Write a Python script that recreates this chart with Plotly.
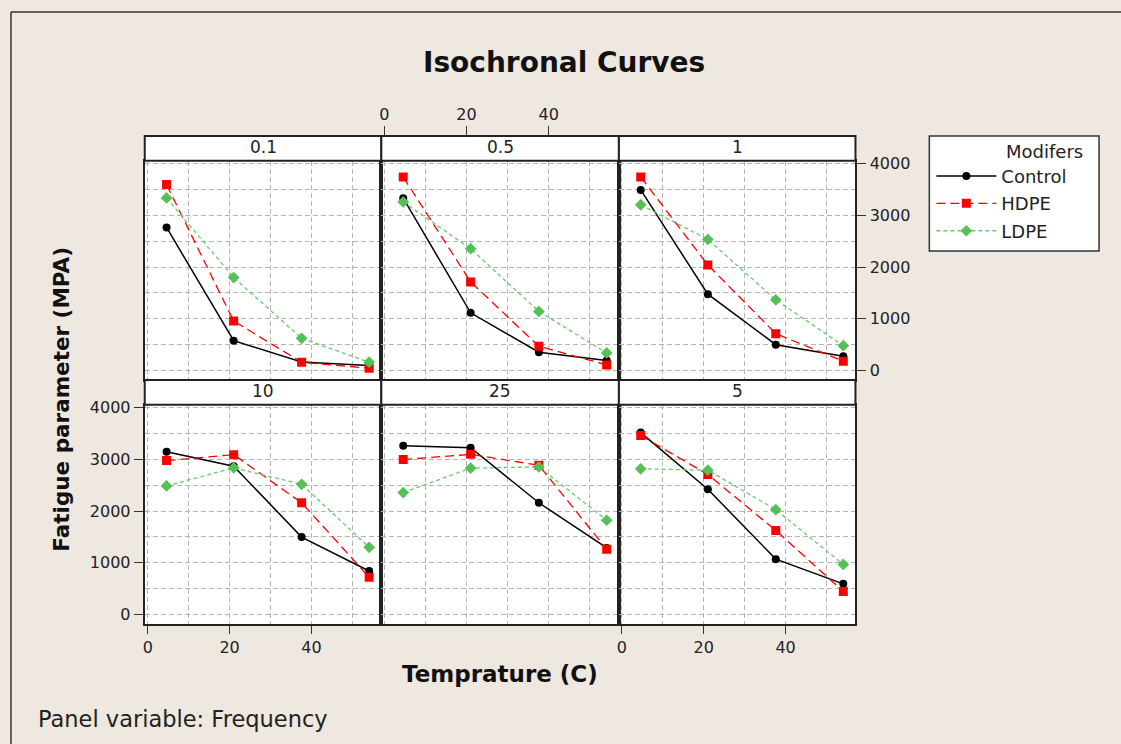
import plotly.graph_objects as go

W, H = 1121, 744

panels = ["0.1", "0.5", "1", "10", "25", "5"]
temps = [4.6, 21.0, 37.6, 54.1]

control = {
    "0.1": [2766, 571, 160, 89],
    "0.5": [3333, 1112, 347, 185],
    "1": [3494, 1473, 494, 270],
    "10": [3150, 2869, 1495, 837],
    "25": [3265, 3227, 2160, 1284],
    "5": [3521, 2422, 1067, 588],
}
hdpe = {
    "0.1": [3597, 952, 154, 38],
    "0.5": [3745, 1711, 463, 102],
    "1": [3745, 2039, 707, 174],
    "10": [2978, 3093, 2160, 716],
    "25": [2997, 3099, 2888, 1259],
    "5": [3463, 2709, 1623, 441],
}
ldpe = {
    "0.1": [3340, 1795, 617, 154],
    "0.5": [3262, 2355, 1139, 334],
    "1": [3205, 2535, 1363, 475],
    "10": [2486, 2837, 2518, 1297],
    "25": [2358, 2831, 2856, 1821],
    "5": [2818, 2792, 2026, 965],
}

x_ticks = [0, 20, 40]
y_ticks = [0, 1000, 2000, 3000, 4000]

FONT = "DejaVu Sans"
BG = "#EEE8E1"
GRID = "#B4B4B4"
TICKSIZE = 16

series = [
    ("Control", control, dict(color="black", width=1.5, dash="solid"),
     dict(symbol="circle", size=8, color="black")),
    ("HDPE", hdpe, dict(color="#FF0000", width=1.3, dash="9px,5px"),
     dict(symbol="square", size=9, color="#FF0000")),
    ("LDPE", ldpe, dict(color="#66CC66", width=1.3, dash="4px,3px"),
     dict(symbol="diamond", size=9, color="#55C055")),
]

col_px = [(143, 380), (380, 618), (618, 855)]
row_px = [(156, 377), (402, 623)]
strip_px = [(131, 156), (377, 402)]

def px_x(v):
    return v / W

def px_y(v):
    return 1 - v / H

fig = go.Figure()

xr = [-0.73, 57.07]
yr = [-190, 4060]

for i, p in enumerate(panels):
    r, c = divmod(i, 3)
    ax = "" if i == 0 else str(i + 1)
    for name, data, line, marker in series:
        fig.add_trace(go.Scatter(
            x=temps, y=data[p], mode="lines+markers", name=name,
            line=line, marker=marker, showlegend=(i == 0),
            xaxis="x" + ax, yaxis="y" + ax, legendgroup=name,
        ))
    show_x = (r == 1 and c in (0, 2))
    show_y_left = (r == 1 and c == 0)
    show_y_right = (r == 0 and c == 2)
    xa = dict(
        domain=[px_x(col_px[c][0]), px_x(col_px[c][1])],
        anchor="y" + ax, range=xr, tickvals=x_ticks,
        showgrid=True, gridcolor=GRID, griddash="5px,3px", gridwidth=1,
        minor=dict(dtick=10, tick0=0, showgrid=True, gridcolor=GRID,
                   griddash="5px,3px", gridwidth=1),
        showline=True, mirror=True, linecolor="#222", linewidth=2,
        zeroline=False,
        showticklabels=show_x, ticks="outside" if show_x else "",
        ticklen=8, tickcolor="#333", tickwidth=1,
        tickfont=dict(family=FONT, size=TICKSIZE, color="#222"),
    )
    ya = dict(
        domain=[px_y(row_px[r][1]), px_y(row_px[r][0])],
        anchor="x" + ax, range=yr, tickvals=y_ticks,
        showgrid=True, gridcolor=GRID, griddash="5px,3px", gridwidth=1,
        minor=dict(dtick=500, tick0=0, showgrid=True, gridcolor=GRID,
                   griddash="5px,3px", gridwidth=1),
        showline=True, mirror=True, linecolor="#222", linewidth=2,
        zeroline=False,
        showticklabels=(show_y_left or show_y_right),
        ticks="outside" if (show_y_left or show_y_right) else "",
        side="right" if show_y_right else "left",
        ticklen=9, tickcolor="#333", tickwidth=1,
        tickfont=dict(family=FONT, size=TICKSIZE, color="#222"),
    )
    fig.update_layout(**{"xaxis" + ax: xa, "yaxis" + ax: ya})

# top tick axis over the middle top panel (above the strip)
fig.add_trace(go.Scatter(x=[], y=[], xaxis="x7", yaxis="y2", showlegend=False))
fig.update_layout(xaxis7=dict(
    domain=[px_x(col_px[1][0]), px_x(col_px[1][1])],
    anchor="free", position=px_y(strip_px[0][0]), overlaying="x2",
    side="top", range=xr, tickvals=x_ticks, showgrid=False, zeroline=False,
    showline=False, ticks="outside", ticklen=10, tickcolor="#333",
    tickfont=dict(family=FONT, size=TICKSIZE, color="#222"),
))

shapes = []
annotations = []
for i, p in enumerate(panels):
    r, c = divmod(i, 3)
    x0, x1 = col_px[c]
    s0, s1 = strip_px[r]
    shapes.append(dict(type="rect", xref="paper", yref="paper",
                       x0=px_x(x0), x1=px_x(x1), y0=px_y(s1), y1=px_y(s0),
                       fillcolor="white", line=dict(color="#222", width=2),
                       layer="above"))
    annotations.append(dict(text=p, xref="paper", yref="paper",
                            x=px_x((x0 + x1) / 2), y=px_y((s0 + s1) / 2 - 1),
                            showarrow=False, xanchor="center", yanchor="middle",
                            font=dict(family=FONT, size=17, color="#222")))

# outer frame (left and top edges only visible)
shapes.append(dict(type="line", xref="paper", yref="paper",
                   x0=px_x(9), x1=px_x(9), y0=0, y1=px_y(6),
                   line=dict(color="#333", width=1.5), layer="below"))
shapes.append(dict(type="line", xref="paper", yref="paper",
                   x0=px_x(9), x1=1, y0=px_y(6), y1=px_y(6),
                   line=dict(color="#333", width=1.5), layer="below"))

# legend box
shapes.append(dict(type="rect", xref="paper", yref="paper",
                   x0=px_x(929), x1=px_x(1099), y0=px_y(247), y1=px_y(131),
                   fillcolor="white", line=dict(color="#333", width=1.5),
                   layer="below"))

annotations += [
    dict(text="<b>Isochronal Curves</b>", xref="paper", yref="paper",
         x=px_x(563), y=px_y(57), showarrow=False, xanchor="center", yanchor="middle",
         font=dict(family=FONT, size=28, color="#111")),
    dict(text="<b>Temprature (C)</b>", xref="paper", yref="paper",
         x=px_x(499), y=px_y(673), showarrow=False, xanchor="center", yanchor="middle",
         font=dict(family=FONT, size=23, color="#111")),
    dict(text="<b>Fatigue parameter (MPA)</b>", xref="paper", yref="paper",
         x=px_x(60), y=px_y(396), showarrow=False, xanchor="center", yanchor="middle",
         textangle=-90, font=dict(family=FONT, size=21.5, color="#111")),
    dict(text="Panel variable: Frequency", xref="paper", yref="paper",
         x=px_x(34), y=px_y(719), showarrow=False, xanchor="left", yanchor="middle",
         font=dict(family=FONT, size=22.5, color="#222")),
    dict(text="Modifers", xref="paper", yref="paper",
         x=px_x(1004), y=px_y(147), showarrow=False, xanchor="left", yanchor="middle",
         font=dict(family=FONT, size=18, color="#222")),
]

fig.update_layout(
    width=W, height=H, margin=dict(l=0, r=0, t=0, b=0),
    paper_bgcolor=BG, plot_bgcolor="white",
    shapes=shapes, annotations=annotations,
    legend=dict(
        x=px_x(931), y=px_y(153), xanchor="left", yanchor="top",
        bgcolor="rgba(0,0,0,0)", borderwidth=0,
        font=dict(family=FONT, size=18, color="#222"),
        itemwidth=60, tracegroupgap=1,
    ),
)

fig.write_html("out.html")
